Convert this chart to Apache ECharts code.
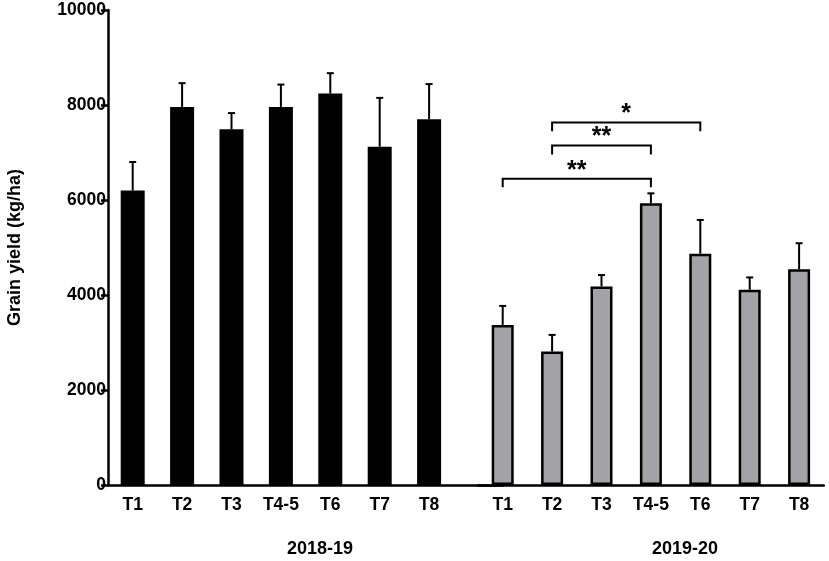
<!DOCTYPE html>
<html>
<head>
<meta charset="utf-8">
<script src="https://cdn.jsdelivr.net/npm/echarts@6/dist/echarts.min.js"></script>
<style>
  html, body { margin: 0; padding: 0; background: #fff; }
  #chart { width: 829px; height: 561px; }
</style>
</head>
<body>
<div id="chart"></div>
<script>
// treatments, same for both seasons
const treatments = ['T1', 'T2', 'T3', 'T4-5', 'T6', 'T7', 'T8'];
const seasons = ['2018-19', '2019-20'];

// mean grain yield (kg/ha) and upper error (SD)
const yield1819 = [6200, 7960, 7490, 7960, 8240, 7120, 7700];
const sd1819 = [600, 500, 340, 470, 430, 1030, 740];
const yield1920 = [3370, 2810, 4180, 5930, 4870, 4110, 4540];
const sd1920 = [400, 350, 240, 210, 710, 260, 550];

// significance brackets in 2019-20: [from index, to index, line y, foot y, label]
const brackets = [
  [0, 3, 6450, 6270, '**'],
  [1, 3, 7150, 6960, '**'],
  [1, 4, 7630, 7450, '*']
];

const yTicks = { min: 0, max: 10000, interval: 2000 };

const font = 'Arial, "Liberation Sans", sans-serif';
const chart = echarts.init(document.getElementById('chart'));

// error bar, upward only, with a short cap
function errorBar(params, api) {
  const base = api.coord([api.value(0), api.value(1)]);
  const top = api.coord([api.value(0), api.value(2)]);
  const style = { stroke: '#000', lineWidth: 2 };
  return {
    type: 'group',
    children: [
      { type: 'line', shape: { x1: base[0], y1: base[1], x2: top[0], y2: top[1] }, style },
      { type: 'line', shape: { x1: top[0] - 3.5, y1: top[1], x2: top[0] + 3.5, y2: top[1] }, style }
    ]
  };
}

function bracket(params, api) {
  const a = api.coord([api.value(0), api.value(2)]);
  const b = api.coord([api.value(1), api.value(2)]);
  const foot = api.coord([api.value(0), api.value(3)])[1];
  return {
    type: 'group',
    children: [
      {
        type: 'polyline',
        shape: { points: [[a[0], foot], a, b, [b[0], foot]] },
        style: { stroke: '#000', lineWidth: 2, fill: null }
      },
      {
        type: 'text',
        style: {
          x: (a[0] + b[0]) / 2, y: a[1] - 8,
          text: brackets[params.dataIndex][4],
          font: 'bold 25px ' + font,
          fill: '#000', align: 'center', verticalAlign: 'middle'
        }
      }
    ]
  };
}

const axisLine = { lineStyle: { color: '#000', width: 2.5 } };
const catLabel = { color: '#000', fontWeight: 'bold', fontSize: 17.5, fontFamily: font, margin: 11 };

const option = {
  animation: false,
  grid: [
    { left: 108, top: 10, bottom: 76, width: 395.2 },
    { left: 478, top: 10, bottom: 76, width: 345.8 }
  ],
  xAxis: [
    {
      type: 'category', gridIndex: 0,
      // extra blank slot carries the axis line across the gap between seasons
      data: treatments.concat(['']),
      axisLine,
      axisTick: { alignWithLabel: true, length: 6, lineStyle: { width: 2.5, color: '#000' }, interval: (i) => i < treatments.length },
      axisLabel: catLabel
    },
    {
      type: 'category', gridIndex: 1,
      data: treatments,
      axisLine,
      axisTick: { alignWithLabel: true, length: 6, lineStyle: { width: 2.5, color: '#000' } },
      axisLabel: catLabel
    }
  ],
  yAxis: [
    {
      type: 'value', gridIndex: 0,
      min: yTicks.min, max: yTicks.max, interval: yTicks.interval,
      name: 'Grain yield (kg/ha)',
      nameLocation: 'middle', nameRotate: 90, nameGap: 84,
      nameTextStyle: { color: '#000', fontWeight: 'bold', fontSize: 18, fontFamily: font },
      axisLine: { show: true, lineStyle: { color: '#000', width: 2.5 } },
      axisTick: { show: true, length: 7, lineStyle: { width: 2.5, color: '#000' } },
      axisLabel: {
        color: '#000', fontWeight: 'bold', fontSize: 17.5, fontFamily: font, margin: 2,
        formatter: (v) => String(v)
      },
      splitLine: { show: false }
    },
    {
      type: 'value', gridIndex: 1, show: false,
      min: yTicks.min, max: yTicks.max, interval: yTicks.interval,
      splitLine: { show: false }
    }
  ],
  series: [
    {
      name: seasons[0], type: 'bar', xAxisIndex: 0, yAxisIndex: 0,
      data: yield1819, barWidth: 24,
      itemStyle: { color: '#000' }
    },
    {
      name: seasons[0] + ' err', type: 'custom', xAxisIndex: 0, yAxisIndex: 0,
      data: yield1819.map((v, i) => [i, v, v + sd1819[i]]),
      renderItem: errorBar, z: 3
    },
    {
      name: seasons[1], type: 'bar', xAxisIndex: 1, yAxisIndex: 1,
      data: yield1920, barWidth: 22,
      itemStyle: { color: '#a3a3a7', borderColor: '#000', borderWidth: 2.5 }
    },
    {
      name: seasons[1] + ' err', type: 'custom', xAxisIndex: 1, yAxisIndex: 1,
      data: yield1920.map((v, i) => [i, v, v + sd1920[i]]),
      renderItem: errorBar, z: 3
    },
    {
      name: 'significance', type: 'custom', xAxisIndex: 1, yAxisIndex: 1,
      data: brackets.map(b => b.slice(0, 4)),
      renderItem: bracket, z: 4
    }
  ],
  graphic: [
    { type: 'text', left: 287, top: 540, style: { text: seasons[0], font: 'bold 18px ' + font, fill: '#000', align: 'center' } },
    { type: 'text', left: 652, top: 540, style: { text: seasons[1], font: 'bold 18px ' + font, fill: '#000', align: 'center' } }
  ]
};

chart.setOption(option);
</script>
</body>
</html>
